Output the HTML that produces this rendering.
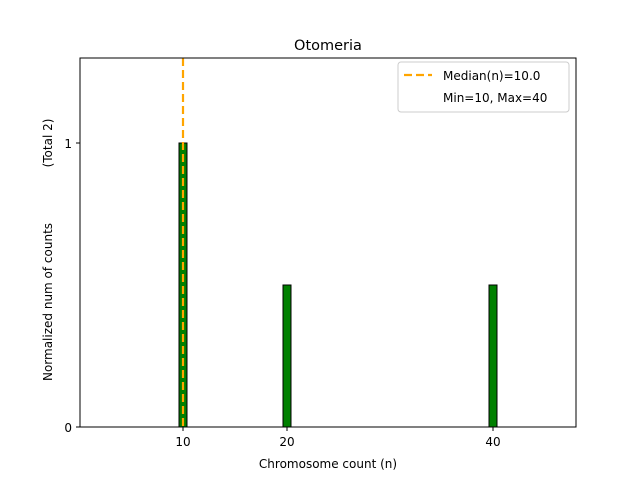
<!DOCTYPE html>
<html><head><style>body{margin:0;background:#fff}</style></head><body>
<svg width="640" height="480" xmlns="http://www.w3.org/2000/svg" font-family="DejaVu Sans, Liberation Sans, sans-serif">
<rect width="640" height="480" fill="#fff"/>
<text x="328" y="50" font-size="14.5" text-anchor="middle">Otomeria</text>
<rect x="179" y="143" width="8" height="284" fill="#008000" stroke="#000" stroke-width="1"/>
<rect x="283" y="285" width="8" height="142" fill="#008000" stroke="#000" stroke-width="1"/>
<rect x="489" y="285" width="8" height="142" fill="#008000" stroke="#000" stroke-width="1"/>
<line x1="183" y1="58" x2="183" y2="427" stroke="#ffa500" stroke-width="2.2" stroke-dasharray="8,4"/>
<rect x="80" y="58" width="496" height="369" fill="none" stroke="#000" stroke-width="1"/>
<g stroke="#000"><line x1="183" y1="427" x2="183" y2="431"/><line x1="287" y1="427" x2="287" y2="431"/><line x1="493" y1="427" x2="493" y2="431"/>
<line x1="76" y1="427" x2="80" y2="427"/><line x1="76" y1="143" x2="80" y2="143"/></g>
<g font-size="12" text-anchor="middle"><text x="183" y="446">10</text><text x="287" y="446">20</text><text x="493" y="446">40</text>
<text x="328" y="468">Chromosome count (n)</text></g>
<g font-size="12" text-anchor="end"><text x="72" y="432">0</text><text x="72" y="148">1</text></g>
<text transform="translate(52,302) rotate(-90)" font-size="12" text-anchor="middle">Normalized num of counts</text>
<text transform="translate(52,143) rotate(-90)" font-size="12" text-anchor="middle">(Total 2)</text>
<rect x="398" y="62" width="171" height="50" rx="3" fill="#fff" stroke="#ccc"/>
<line x1="404" y1="75" x2="432" y2="75" stroke="#ffa500" stroke-width="2.2" stroke-dasharray="8,4"/>
<text x="443" y="80" font-size="12">Median(n)=10.0</text>
<text x="443" y="102" font-size="12">Min=10, Max=40</text>
</svg>
</body></html>
